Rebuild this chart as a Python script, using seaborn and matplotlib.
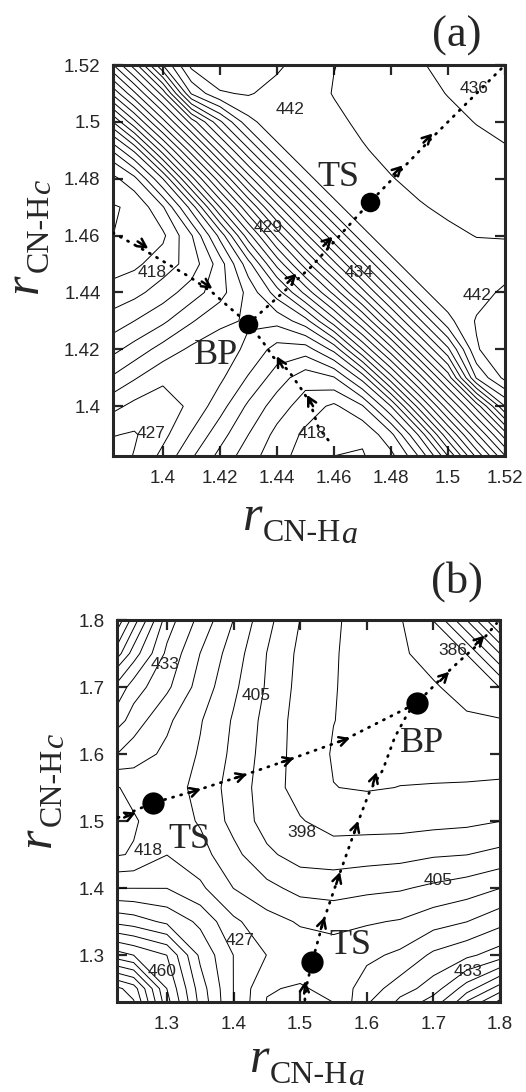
import numpy as np
import matplotlib
matplotlib.use("Agg")
import matplotlib.pyplot as plt
from matplotlib.transforms import IdentityTransform
from matplotlib.ticker import FuncFormatter
import seaborn as sns

sns.set_style("ticks")
plt.rcParams["font.family"] = ["Liberation Sans", "DejaVu Sans"]

# ---------------- panel (a): energy grid (y rows ascending, x columns) ----------------
a_r = [1.38, 1.39, 1.40, 1.41, 1.42, 1.43, 1.44, 1.45, 1.46, 1.47, 1.48, 1.49, 1.50, 1.51, 1.52]
a_e = [
    [425.1, 424.4, 423.0, 421.4, 420.0, 418.8, 417.8, 417.0, 416.4, 416.4, 416.9, 419.0, 422.6, 426.9, 430.6],
    [424.4, 424.6, 423.8, 422.4, 420.9, 419.5, 418.2, 417.3, 416.8, 416.6, 418.2, 421.7, 426.3, 430.3, 434.0],
    [423.0, 423.8, 424.0, 423.3, 421.9, 420.3, 419.0, 418.0, 417.3, 418.4, 421.5, 426.0, 430.1, 433.9, 438.5],
    [421.4, 422.4, 423.3, 423.5, 422.7, 421.4, 420.0, 418.9, 419.4, 421.9, 426.1, 430.0, 433.9, 439.6, 441.8],
    [420.0, 420.9, 421.9, 422.7, 423.0, 422.3, 421.1, 421.0, 422.8, 426.5, 430.1, 433.9, 437.3, 441.4, 442.3],
    [418.8, 419.5, 420.3, 421.4, 422.3, 422.6, 422.8, 424.1, 427.1, 430.4, 434.0, 437.3, 440.2, 441.6, 442.3],
    [417.8, 418.2, 419.0, 420.0, 421.1, 422.8, 425.0, 427.8, 430.8, 434.1, 437.3, 440.2, 441.2, 441.1, 441.7],
    [417.0, 417.3, 418.0, 418.9, 421.0, 424.1, 427.8, 431.0, 434.2, 437.3, 440.2, 441.2, 441.3, 440.95, 441.0],
    [416.4, 416.8, 417.3, 419.4, 422.8, 427.1, 430.8, 434.2, 437.3, 440.2, 441.2, 441.3, 440.73, 440.47, 440.43],
    [416.4, 416.6, 418.4, 421.9, 426.5, 430.4, 434.1, 437.3, 440.2, 441.2, 441.3, 440.59, 440.3, 440.28, 440.28],
    [416.9, 418.2, 421.5, 426.1, 430.1, 434.0, 437.3, 440.2, 441.2, 441.3, 440.55, 440.21, 440.14, 440.1, 439.98],
    [419.0, 421.7, 426.0, 430.0, 433.9, 437.3, 440.2, 441.2, 441.3, 440.59, 440.21, 440.1, 440.01, 439.84, 439.55],
    [422.6, 426.3, 430.1, 433.9, 437.3, 440.2, 441.2, 441.3, 440.73, 440.3, 440.14, 440.01, 439.8, 439.46, 439.34],
    [426.9, 430.3, 433.9, 439.6, 441.4, 441.6, 441.1, 440.95, 440.45, 440.28, 440.1, 439.84, 439.46, 439.3, 439.11],
    [430.6, 434.0, 438.5, 441.8, 442.3, 442.3, 441.7, 441.0, 440.52, 440.28, 439.98, 439.55, 439.34, 439.11, 439.0],
]

# ---------------- panel (b): energy grid ----------------
b_r = [1.20, 1.25, 1.30, 1.35, 1.40, 1.45, 1.50, 1.55, 1.60, 1.65, 1.70, 1.75, 1.80]
b_e = [
    [470.6, 457.4, 440.9, 427.7, 417.8, 410.5, 408.9, 409.9, 419.5, 426.1, 431.0, 442.6, 450.8],
    [457.4, 452.5, 437.6, 426.1, 417.8, 411.5, 410.9, 412.2, 416.2, 419.5, 422.8, 429.4, 436.0],
    [440.9, 437.6, 434.3, 423.7, 417.8, 414.5, 413.2, 412.9, 413.8, 415.2, 418.5, 420.4, 422.8],
    [427.7, 426.1, 423.7, 420.4, 415.2, 412.5, 410.9, 410.2, 410.9, 411.5, 413.2, 414.5, 416.8],
    [417.8, 417.8, 417.8, 415.2, 411.2, 408.9, 406.9, 406.6, 407.2, 407.6, 408.6, 409.6, 411.2],
    [410.5, 411.5, 414.5, 412.5, 408.9, 405.3, 403.3, 403.0, 403.3, 403.6, 404.3, 404.6, 405.6],
    [408.9, 410.9, 413.2, 410.9, 406.9, 403.3, 401.6, 400.0, 400.0, 400.0, 400.3, 400.6, 401.3],
    [409.9, 412.2, 412.9, 410.2, 406.6, 403.0, 400.0, 398.1, 397.8, 398.1, 398.2, 398.3, 398.5],
    [419.5, 416.2, 413.8, 410.9, 407.2, 403.3, 400.0, 397.8, 397.2, 397.2, 397.0, 396.8, 396.7],
    [426.1, 419.5, 415.2, 411.5, 407.6, 403.6, 400.0, 398.1, 397.2, 396.4, 396.0, 395.4, 395.0],
    [431.0, 422.8, 418.5, 413.2, 408.6, 404.3, 400.3, 398.2, 397.0, 396.0, 395.2, 393.1, 391.4],
    [442.6, 429.4, 420.4, 414.5, 409.6, 404.6, 400.6, 398.3, 396.8, 395.4, 393.1, 391.4, 381.5],
    [450.8, 436.0, 422.8, 416.8, 411.2, 405.6, 401.3, 398.5, 396.7, 395.0, 391.4, 381.5, 370.6],
]

# contour value labels
a_lab_txt = ["442", "436", "429", "434", "418", "442", "427", "418"]
a_lab_x = [1.4446, 1.509, 1.4369, 1.4688, 1.3962, 1.5102, 1.3958, 1.4523]
a_lab_y = [1.5042, 1.5116, 1.463, 1.4472, 1.4472, 1.4391, 1.3903, 1.3903]
b_lab_txt = ["433", "405", "386", "398", "405", "418", "427", "460", "433"]
b_lab_x = [1.297, 1.4337, 1.7295, 1.5027, 1.707, 1.2715, 1.4097, 1.2925, 1.752]
b_lab_y = [1.733, 1.6866, 1.7552, 1.4822, 1.412, 1.4568, 1.3225, 1.2748, 1.2748]

# stationary points
a_pt_x = [1.4727, 1.430]
a_pt_y = [1.4718, 1.429]
a_pt_txt = ["TS", "BP"]
a_pt_tx = [1.4614, 1.4186]
a_pt_ty = [1.4806, 1.4177]
b_pt_x = [1.279, 1.518, 1.675]
b_pt_y = [1.527, 1.290, 1.676]
b_pt_txt = ["TS", "TS", "BP"]
b_pt_tx = [1.333, 1.576, 1.683]
b_pt_ty = [1.4732, 1.314, 1.615]

# reaction paths
a_paths = [
    ([1.3825, 1.395, 1.4095, 1.4176, 1.4236, 1.430], [1.461, 1.454, 1.4454, 1.4398, 1.4345, 1.429]),
    ([1.458, 1.4545, 1.4517, 1.4488, 1.4439, 1.4387, 1.4351, 1.430], [1.3881, 1.3927, 1.4011, 1.4057, 1.4127, 1.4173, 1.4226, 1.429]),
    ([1.430, 1.452, 1.4727, 1.495, 1.519], [1.429, 1.449, 1.4718, 1.495, 1.519]),
]
b_paths = [
    ([1.2265, 1.279, 1.342, 1.411, 1.4817, 1.5658, 1.675, 1.72, 1.744, 1.77, 1.795],
     [1.505, 1.527, 1.545, 1.567, 1.591, 1.621, 1.676, 1.721, 1.743, 1.766, 1.795]),
    ([1.507, 1.509, 1.518, 1.534, 1.557, 1.584, 1.605, 1.624, 1.642, 1.6617, 1.675],
     [1.233, 1.252, 1.290, 1.348, 1.415, 1.491, 1.546, 1.576, 1.625, 1.661, 1.676]),
]
# arrow marks: position and direction along the path
a_arr = [(1.393, 1.4567, 0.83, -0.56), (1.4155, 1.4426, 0.83, -0.56),
         (1.4516, 1.402, -0.47, 0.88), (1.441, 1.4156, -0.47, 0.88),
         (1.4453, 1.445, 0.71, 0.71), (1.4579, 1.458, 0.71, 0.71),
         (1.4825, 1.4831, 0.71, 0.71), (1.493, 1.4943, 0.71, 0.71)]
b_arr = [(1.2445, 1.509, 0.92, 0.39), (1.342, 1.545, 0.95, 0.31), (1.411, 1.567, 0.95, 0.31),
         (1.4817, 1.591, 0.95, 0.31), (1.5658, 1.621, 0.95, 0.31),
         (1.717, 1.716, 0.71, 0.71), (1.77, 1.77, 0.71, 0.71),
         (1.507, 1.252, 0.1, 0.99), (1.534, 1.348, 0.3, 0.95), (1.557, 1.415, 0.3, 0.95),
         (1.584, 1.491, 0.3, 0.95), (1.612, 1.564, 0.3, 0.95)]

W, H = 526, 1092
fig = plt.figure(figsize=(W / 100, H / 100), dpi=100)
ax_a = fig.add_axes([113 / W, 1 - 456 / H, 392 / W, 391 / H])
ax_b = fig.add_axes([117 / W, 1 - 1002 / H, 383 / W, 382 / H])


def draw_panel(ax, r, e, levels, lim, ticks, labs, pts, paths, arrows, alen, msize):
    X, Y = np.meshgrid(r, r)
    ax.contour(X, Y, np.array(e), levels=levels, colors="black", linewidths=0.7)
    for xs, ys in paths:
        sns.lineplot(x=xs, y=ys, sort=False, estimator=None, ax=ax, color="black",
                     lw=2.0, linestyle=(0, (0.4, 2.6)), dash_capstyle="round", zorder=3)
    for x, y, dx, dy in arrows:
        ax.annotate("", xy=(x + 0.5 * alen * dx, y + 0.5 * alen * dy),
                    xytext=(x - 0.5 * alen * dx, y - 0.5 * alen * dy),
                    arrowprops=dict(arrowstyle="->,head_length=0.6,head_width=0.32",
                                    lw=1.8, color="black", shrinkA=0, shrinkB=0), zorder=4)
    px, py, ptxt, tx, ty = pts
    sns.scatterplot(x=px, y=py, s=msize, color="black", edgecolor="black", ax=ax, zorder=5)
    for t, x, y in zip(ptxt, tx, ty):
        ax.text(x, y, t, family="Liberation Serif", fontsize=26, ha="center", va="center", zorder=6)
    for t, x, y in zip(*labs):
        ax.text(x, y, t, fontsize=12.5, ha="center", va="center", zorder=6)
    ax.set_xlim(*lim[0])
    ax.set_ylim(*lim[1])
    ax.set_xticks(ticks)
    ax.set_yticks(ticks)
    fmt = FuncFormatter(lambda v, p: f"{v:g}")
    ax.xaxis.set_major_formatter(fmt)
    ax.yaxis.set_major_formatter(fmt)
    ax.tick_params(direction="in", top=True, right=True, length=7, width=1.6, labelsize=13.5)
    ax.tick_params(axis="x", pad=10)
    ax.tick_params(axis="y", pad=9)
    for s in ax.spines.values():
        s.set_linewidth(2.2)
    ax.set_xlabel("")
    ax.set_ylabel("")


draw_panel(ax_a, a_r, a_e, np.arange(405.5, 446, 1.0), ((1.3825, 1.52), (1.3825, 1.52)),
           [1.40, 1.42, 1.44, 1.46, 1.48, 1.50, 1.52],
           (a_lab_txt, a_lab_x, a_lab_y), (a_pt_x, a_pt_y, a_pt_txt, a_pt_tx, a_pt_ty),
           a_paths, a_arr, 0.0045, 170)
draw_panel(ax_b, b_r, b_e, 398.05 + 3.3 * np.arange(-12, 25), ((1.225, 1.8), (1.23, 1.8)),
           [1.3, 1.4, 1.5, 1.6, 1.7, 1.8],
           (b_lab_txt, b_lab_x, b_lab_y), (b_pt_x, b_pt_y, b_pt_txt, b_pt_tx, b_pt_ty),
           b_paths, b_arr, 0.019, 220)

tr = IdentityTransform()


def put(x, y, s, size, style="normal", rot=0):
    fig.text(x, H - y, s, transform=tr, family="Liberation Serif", fontsize=size,
             style=style, rotation=rot, rotation_mode="anchor", ha="left", va="baseline")


def xlab(x0, base, sub):
    # big italic r with a lowered "CN-H" and its italic letter
    put(x0, base, "r", 36, "italic")
    put(x0 + 20, base + 11, "CN-H", 23)
    put(x0 + 98, base + 13, sub, 23, "italic")


def ylab(xb, y0, sub):
    put(xb, y0, "r", 36, "italic", 90)
    put(xb + 11, y0 - 21, "CN-H", 23, "normal", 90)
    put(xb + 13, y0 - 99, sub, 23, "italic", 90)


xlab(243, 530, "a")
xlab(250, 1072, "a")
ylab(37, 293, "c")
ylab(50, 847, "c")

fig.text(457, H - 47, "(a)", transform=tr, family="Liberation Serif", fontsize=32, ha="center", va="baseline")
fig.text(457, H - 593, "(b)", transform=tr, family="Liberation Serif", fontsize=32, ha="center", va="baseline")

fig.savefig("out.png", dpi=100)
